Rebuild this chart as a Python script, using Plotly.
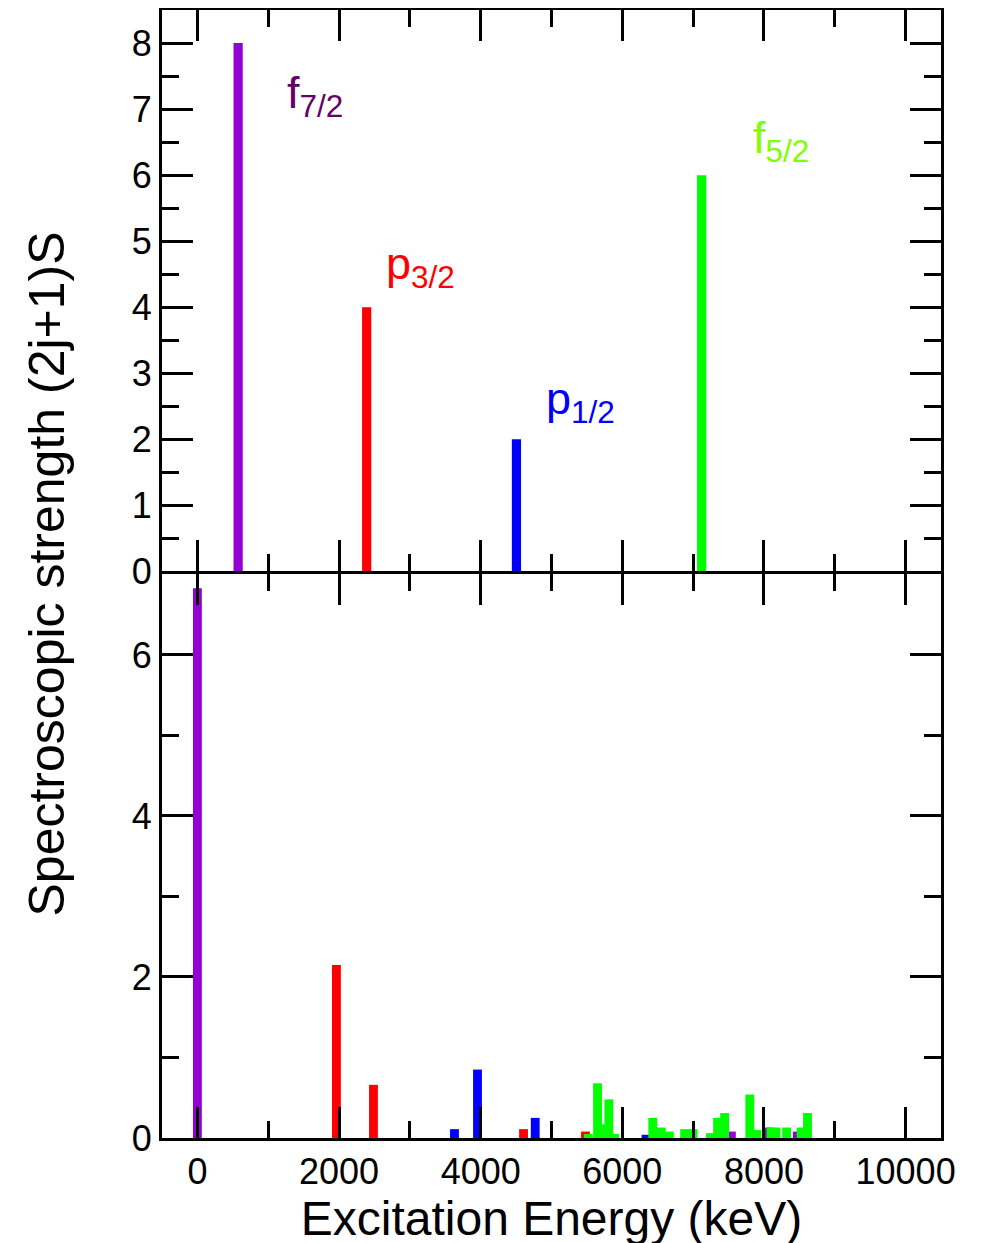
import plotly.graph_objects as go

# ---------------- data ----------------
orbitals = ["f7/2", "p3/2", "p1/2", "f5/2"]
orbital_colors = ["#9400D3", "#FF0000", "#0000FF", "#00FF00"]
label_colors = ["#660066", "#FF0000", "#0000FF", "#7FFF00"]
label_texts = ["f<sub>7/2</sub>", "p<sub>3/2</sub>", "p<sub>1/2</sub>", "f<sub>5/2</sub>"]

# top panel: single-particle (independent particle) strengths
top_energy = [575, 2390, 4505, 7120]
top_strength = [8, 4, 2, 6]

# label positions (keV, strength) for the top panel
label_x = [1230, 2640, 4900, 7810]
label_y = [7.2, 4.62, 2.57, 6.52]

# bottom panel: fragmented strengths, per orbital
f72_energy = [0, 7540, 8040, 8470]
f72_strength = [6.83, 0.08, 0.13, 0.08]

p32_energy = [1963, 2486, 4605, 5480]
p32_strength = [2.15, 0.66, 0.11, 0.08]

p12_energy = [3630, 3955, 4770, 6335]
p12_strength = [0.11, 0.85, 0.25, 0.04]

f52_energy = [5520, 5650, 5735, 5810, 5890, 6430, 6550, 6665, 6880, 7000,
              7245, 7345, 7445, 7800, 7900, 8100, 8170, 8320, 8525, 8615]
f52_strength = [0.05, 0.68, 0.17, 0.48, 0.05, 0.25, 0.13, 0.08, 0.11, 0.11,
                0.06, 0.25, 0.31, 0.54, 0.10, 0.13, 0.13, 0.13, 0.13, 0.31]

x_ticks = [0, 2000, 4000, 6000, 8000, 10000]
x_tick_text = ["0", "2000", "4000", "6000", "8000", "10000"]

# ---------------- figure ----------------
FONT = "Liberation Sans, Arial, Helvetica, sans-serif"
fig = go.Figure()

# top panel
for i in range(4):
    fig.add_trace(go.Bar(x=[top_energy[i]], y=[top_strength[i]], width=130,
                         marker=dict(color=orbital_colors[i], line=dict(width=0)),
                         xaxis="x2", yaxis="y2", showlegend=False))

# bottom panel
bottom_sets = [(f72_energy, f72_strength), (p32_energy, p32_strength),
               (p12_energy, p12_strength), (f52_energy, f52_strength)]
for i, (e, s) in enumerate(bottom_sets):
    fig.add_trace(go.Bar(x=e, y=s, width=125,
                         marker=dict(color=orbital_colors[i], line=dict(width=0)),
                         xaxis="x", yaxis="y", showlegend=False))

PLOT_H = 1128.0
split = 0.5009
gap = 1.5 / PLOT_H
common_x = dict(range=[-500, 10500], tickmode="array", tickvals=x_ticks,
                ticktext=x_tick_text,
                ticks="inside", ticklen=31, tickwidth=3, tickcolor="black",
                minor=dict(dtick=1000, tick0=0, ticks="inside", ticklen=17,
                           tickwidth=3, tickcolor="black"),
                showline=True, linewidth=3, linecolor="black", mirror="allticks",
                showgrid=False, zeroline=False, automargin=False)

fig.update_layout(
    width=981, height=1243,
    margin=dict(l=154, r=48, t=2, b=113),
    paper_bgcolor="white", plot_bgcolor="white",
    barmode="overlay",
    font=dict(family=FONT, color="black"),
    xaxis=dict(**common_x, anchor="y",
               tickfont=dict(size=36, family=FONT),
               title=dict(text="Excitation Energy (keV)",
                          font=dict(size=48, family=FONT), standoff=0)),
    xaxis2=dict(**common_x, anchor="y2", matches="x", showticklabels=False),
    yaxis=dict(domain=[0, split - gap], range=[0, 7], tickmode="array",
               tickvals=[0, 2, 4, 6],
               ticks="inside", ticklen=31, tickwidth=3, tickcolor="black",
               minor=dict(dtick=1, tick0=0, ticks="inside", ticklen=17,
                          tickwidth=3, tickcolor="black"),
               showline=True, linewidth=3, linecolor="black", mirror="allticks",
               showgrid=False, zeroline=False, anchor="x", automargin=False,
               tickfont=dict(size=36, family=FONT)),
    yaxis2=dict(domain=[split + gap, 1], range=[0, 8.5], tickmode="array",
                tickvals=[0, 1, 2, 3, 4, 5, 6, 7, 8],
                ticks="inside", ticklen=31, tickwidth=3, tickcolor="black",
                minor=dict(dtick=0.5, tick0=0, ticks="inside", ticklen=17,
                           tickwidth=3, tickcolor="black"),
                showline=True, linewidth=3, linecolor="black", mirror="allticks",
                showgrid=False, zeroline=False, anchor="x2", automargin=False,
                tickfont=dict(size=36, family=FONT)),
)

for i in range(4):
    fig.add_annotation(x=label_x[i], y=label_y[i], xref="x2", yref="y2",
                       text=label_texts[i], showarrow=False,
                       xanchor="left", yanchor="middle",
                       font=dict(size=45, color=label_colors[i], family=FONT))

fig.add_annotation(x=-0.147, y=0.5, xref="paper", yref="paper",
                   text="Spectroscopic strength (2j+1)S", textangle=-90,
                   showarrow=False, xanchor="center", yanchor="middle",
                   font=dict(size=50, family=FONT, color="black"))

fig.write_html("out.html")
